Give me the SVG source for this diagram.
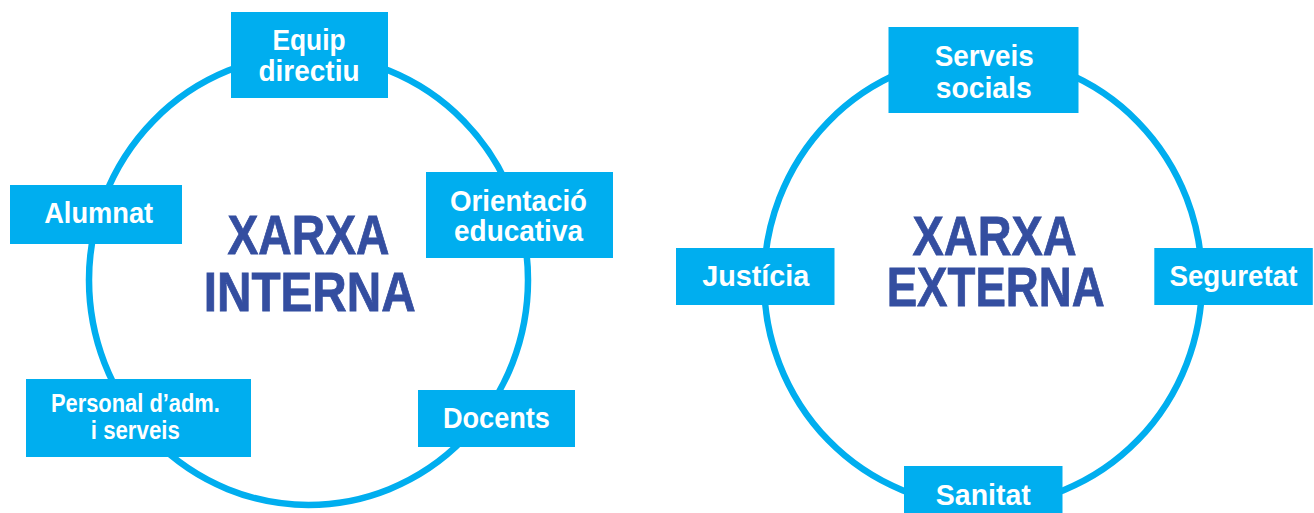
<svg xmlns="http://www.w3.org/2000/svg" width="1314" height="513" viewBox="0 0 1314 513">
  <style>
    .ring { fill: none; stroke: #00AEEF; stroke-width: 6.5; }
    .box { fill: #00AEEF; }
    .lbl { font-family: "Liberation Sans", Arial, sans-serif; font-weight: bold; font-size: 30px; fill: #FFFFFF; text-anchor: middle; }
    .sm { font-size: 25px; }
    .title { font-family: "Liberation Sans", Arial, sans-serif; font-weight: bold; font-size: 56px; fill: #344EA0; stroke: #344EA0; stroke-width: 0.8; text-anchor: middle; }
  </style>
  <rect width="1314" height="513" fill="#FFFFFF"/>
  <g id="connectors">
    <ellipse class="ring" cx="308.5" cy="280" rx="219.5" ry="225"/>
    <ellipse class="ring" cx="983" cy="281" rx="219" ry="225"/>
  </g>
  <g id="title-interna">
    <text class="title"><tspan x="308.5" y="254" textLength="162" lengthAdjust="spacingAndGlyphs">XARXA</tspan><tspan x="309.7" y="311" textLength="212" lengthAdjust="spacingAndGlyphs">INTERNA</tspan></text>
  </g>
  <g id="title-externa">
    <text class="title"><tspan x="994.6" y="255" textLength="164" lengthAdjust="spacingAndGlyphs">XARXA</tspan><tspan x="995.7" y="306" textLength="218" lengthAdjust="spacingAndGlyphs">EXTERNA</tspan></text>
  </g>
  <g id="equip">
    <rect class="box" x="231" y="12" width="157" height="86"/>
    <text class="lbl" x="309" y="50" textLength="73" lengthAdjust="spacingAndGlyphs">Equip</text>
    <text class="lbl" x="309" y="81" textLength="101" lengthAdjust="spacingAndGlyphs">directiu</text>
  </g>
  <g id="alumnat">
    <rect class="box" x="10" y="185" width="172" height="59"/>
    <text class="lbl" x="98.7" y="223" textLength="109" lengthAdjust="spacingAndGlyphs">Alumnat</text>
  </g>
  <g id="orientacio">
    <rect class="box" x="426" y="172" width="187" height="86"/>
    <text class="lbl" x="518.5" y="211" textLength="137" lengthAdjust="spacingAndGlyphs">Orientació</text>
    <text class="lbl" x="518.5" y="241" textLength="129" lengthAdjust="spacingAndGlyphs">educativa</text>
  </g>
  <g id="personal">
    <rect class="box" x="26" y="379" width="225" height="78"/>
    <text class="lbl sm" x="135.4" y="412" textLength="169" lengthAdjust="spacingAndGlyphs">Personal d’adm.</text>
    <text class="lbl sm" x="135.3" y="439" textLength="89" lengthAdjust="spacingAndGlyphs">i serveis</text>
  </g>
  <g id="docents">
    <rect class="box" x="418" y="390" width="157" height="57"/>
    <text class="lbl" x="496.4" y="428" textLength="107" lengthAdjust="spacingAndGlyphs">Docents</text>
  </g>
  <g id="serveis-socials">
    <rect class="box" x="888.5" y="27" width="190" height="86"/>
    <text class="lbl" x="984.2" y="66" textLength="99" lengthAdjust="spacingAndGlyphs">Serveis</text>
    <text class="lbl" x="983.7" y="97.5" textLength="96" lengthAdjust="spacingAndGlyphs">socials</text>
  </g>
  <g id="justicia">
    <rect class="box" x="676" y="248" width="158.5" height="57"/>
    <text class="lbl" x="755.7" y="286" textLength="107" lengthAdjust="spacingAndGlyphs">Justícia</text>
  </g>
  <g id="seguretat">
    <rect class="box" x="1154.3" y="248" width="158.5" height="57"/>
    <text class="lbl" x="1233.4" y="286" textLength="128" lengthAdjust="spacingAndGlyphs">Seguretat</text>
  </g>
  <g id="sanitat">
    <rect class="box" x="904" y="466" width="158.5" height="57"/>
    <text class="lbl" x="983.3" y="505" textLength="95" lengthAdjust="spacingAndGlyphs">Sanitat</text>
  </g>
</svg>
